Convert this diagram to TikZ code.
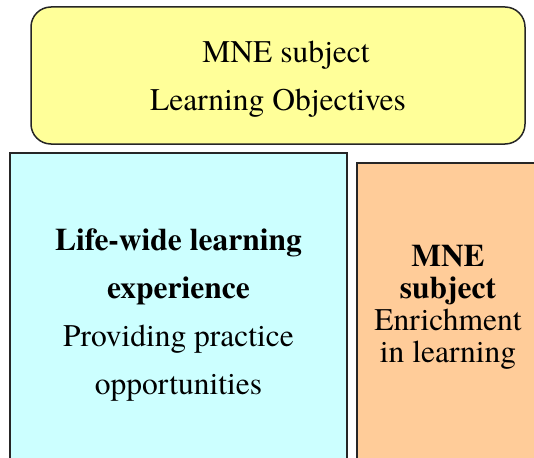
\documentclass[tikz,border=0pt]{standalone}
\usepackage{fontspec}
\setmainfont{texgyretermes}[Extension=.otf,UprightFont=*-regular,BoldFont=*-bold,ItalicFont=*-italic,BoldItalicFont=*-bolditalic]
\definecolor{objyellow}{HTML}{FFFF99}
\definecolor{lifecyan}{HTML}{CCFFFF}
\definecolor{enrichorange}{HTML}{FFCC99}

\begin{document}
\begin{tikzpicture}[x=1pt,y=-1pt,
  panel/.style={draw=black!85,line width=1.5pt},
  txt/.style={align=center,inner sep=0pt,font=\fontsize{31.5}{48}\selectfont}]
\useasboundingbox (0,0) rectangle (534,457);
\clip (0,0) rectangle (534,457);
\draw[panel,fill=objyellow,rounded corners=20pt] (31,7) rectangle (525,144);
\node[txt] (objectives) at (278,79) {\hspace*{16pt}MNE subject\\Learning Objectives};
\draw[panel,fill=lifecyan] (10,153) rectangle (347,470);
\node[txt] (lifewide) at (178.5,314.7) {\textbf{Life-wide learning}\\\textbf{experience}\\Providing practice\\opportunities};
\draw[panel,fill=enrichorange] (357,163) rectangle (550,470);
\node[txt,font=\fontsize{31.5}{32}\selectfont] (enrichment) at (448,307.5) {\textbf{MNE}\\\textbf{subject}\\Enrichment\\in learning};
\end{tikzpicture}
\end{document}
